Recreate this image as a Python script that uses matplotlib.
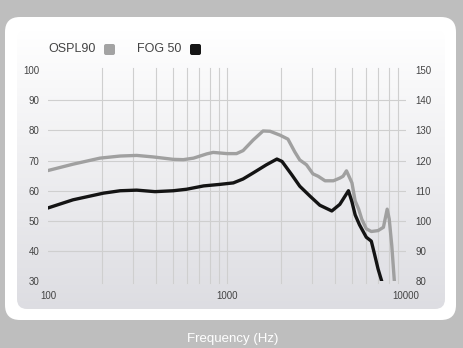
import numpy as np
import matplotlib
matplotlib.use("Agg")
import matplotlib.pyplot as plt
from matplotlib.patches import FancyBboxPatch

plt.rcParams['font.family'] = ['Liberation Sans', 'DejaVu Sans']

# ---- data ----
ospl_freq = [100, 138, 195, 253, 313, 387, 501, 570, 650, 770, 837, 1000, 1130, 1230, 1400,
             1590, 1740, 1980, 2190, 2390, 2550, 2780, 3020, 3230, 3530, 3930, 4270, 4450,
             4650, 4990, 5200, 5440, 5660, 6000, 6400, 6980, 7480, 7850, 8060, 8330, 8610]
ospl_db = [116.7, 118.8, 120.8, 121.5, 121.7, 121.2, 120.4, 120.3, 120.8, 122.2, 122.7, 122.3,
           122.3, 123.3, 126.8, 129.8, 129.7, 128.4, 127.1, 122.9, 120.2, 118.6, 115.6, 114.8,
           113.3, 113.3, 114.2, 114.8, 116.6, 112.6, 106.6, 103.9, 100.6, 97.4, 96.5, 96.8,
           97.9, 103.9, 100.6, 91.8, 80.0]
fog_freq = [100, 138, 204, 253, 313, 396, 501, 595, 740, 910, 1085, 1230, 1400, 1660, 1900,
            2030, 2300, 2550, 2910, 3300, 3850, 4270, 4770, 4990, 5200, 5500, 6000, 6400,
            6670, 6980, 7320]
fog_db = [54.3, 57.0, 59.2, 60.0, 60.2, 59.7, 60.0, 60.5, 61.6, 62.1, 62.6, 63.9, 65.9, 68.6,
          70.5, 69.7, 65.3, 61.5, 58.2, 55.2, 53.3, 55.5, 60.0, 56.3, 52.0, 48.7, 44.6, 43.3,
          39.0, 34.1, 30.0]

left_ticks = [30, 40, 50, 60, 70, 80, 90, 100]
right_ticks = [80, 90, 100, 110, 120, 130, 140, 150]
x_ticks = [100, 1000, 10000]
x_labels = ['100', '1000', '10000']
legend_labels = ['OSPL90', 'FOG 50']

W, H = 463, 348
fig = plt.figure(figsize=(W / 100, H / 100), dpi=100)
fig.patch.set_facecolor('#bebebe')

# background decorations in pixel coordinates
bg = fig.add_axes([0, 0, 1, 1])
bg.set_xlim(0, W)
bg.set_ylim(H, 0)
bg.axis('off')
panel = FancyBboxPatch((5 + 15, 17 + 15), 451 - 30, 303 - 30,
                       boxstyle='round,pad=15', fc='white', ec='none')
bg.add_patch(panel)
inner = FancyBboxPatch((17 + 10, 30 + 10), 428 - 20, 279 - 20,
                       boxstyle='round,pad=10', fc='none', ec='none')
bg.add_patch(inner)
grad = np.linspace(0, 1, 256).reshape(-1, 1)
c_top = np.array([1.0, 1.0, 1.0])
c_bot = np.array([0.867, 0.867, 0.886])
img = c_top[None, None, :] * (1 - grad[:, :, None]) + c_bot[None, None, :] * grad[:, :, None]
im = bg.imshow(img, extent=(17, 445, 309, 30), aspect='auto', zorder=1)
im.set_clip_path(inner)

# legend
bg.text(48, 49, legend_labels[0], fontsize=9, color='#444444', va='center', ha='left', zorder=3)
bg.add_patch(FancyBboxPatch((105, 45), 9, 9, boxstyle='round,pad=1,rounding_size=2',
                            fc='#a3a3a3', ec='none', zorder=3))
bg.text(137, 49, legend_labels[1], fontsize=9, color='#444444', va='center', ha='left', zorder=3)
bg.add_patch(FancyBboxPatch((191, 45), 9, 9, boxstyle='round,pad=1,rounding_size=2',
                            fc='#151515', ec='none', zorder=3))
bg.text(233, 339, 'Frequency (Hz)', fontsize=9.5, color='white', va='center', ha='center')

# main axes
x0, x1 = 48, 406
y0, y1 = 70, 281.3
ax = fig.add_axes([x0 / W, 1 - y1 / H, (x1 - x0) / W, (y1 - y0) / H])
ax.set_facecolor('none')
ax.set_xscale('log')
ax.set_xlim(100, 10000)
ax.set_ylim(30, 100)
for s in ax.spines.values():
    s.set_visible(False)
grid_x = [200, 300, 400, 500, 600, 700, 800, 900, 1000,
          2000, 3000, 4000, 5000, 6000, 7000, 8000, 9000]
for gx in grid_x:
    ax.axvline(gx, ymin=-0.01, ymax=1.01, color='#cfcfcf', lw=0.8, zorder=1, clip_on=False)
for gy in [40, 50, 60, 70, 80, 90]:
    ax.axhline(gy, color='#cfcfcf', lw=0.8, zorder=1)
ax.set_xticks(x_ticks)
ax.set_xticklabels(x_labels)
ax.xaxis.set_minor_locator(matplotlib.ticker.NullLocator())
ax.set_yticks(left_ticks)
ax.tick_params(axis='both', length=0, labelsize=7, labelcolor='#444444')
ax.tick_params(axis='y', pad=6)
ax.tick_params(axis='x', pad=7)

ax2 = ax.twinx()
ax2.set_ylim(80, 150)
ax2.set_yticks(right_ticks)
for s in ax2.spines.values():
    s.set_visible(False)
ax2.tick_params(axis='y', length=0, labelsize=7, labelcolor='#444444', pad=7)

ax2.plot(ospl_freq, ospl_db, color='#a0a0a0', lw=2.4, solid_joinstyle='round', zorder=3)
ax2.plot(np.array(fog_freq), np.array(fog_db) + 50, color='#141414', lw=2.4,
         solid_joinstyle='round', zorder=4)

fig.savefig('out.png', dpi=100, facecolor=fig.get_facecolor())
